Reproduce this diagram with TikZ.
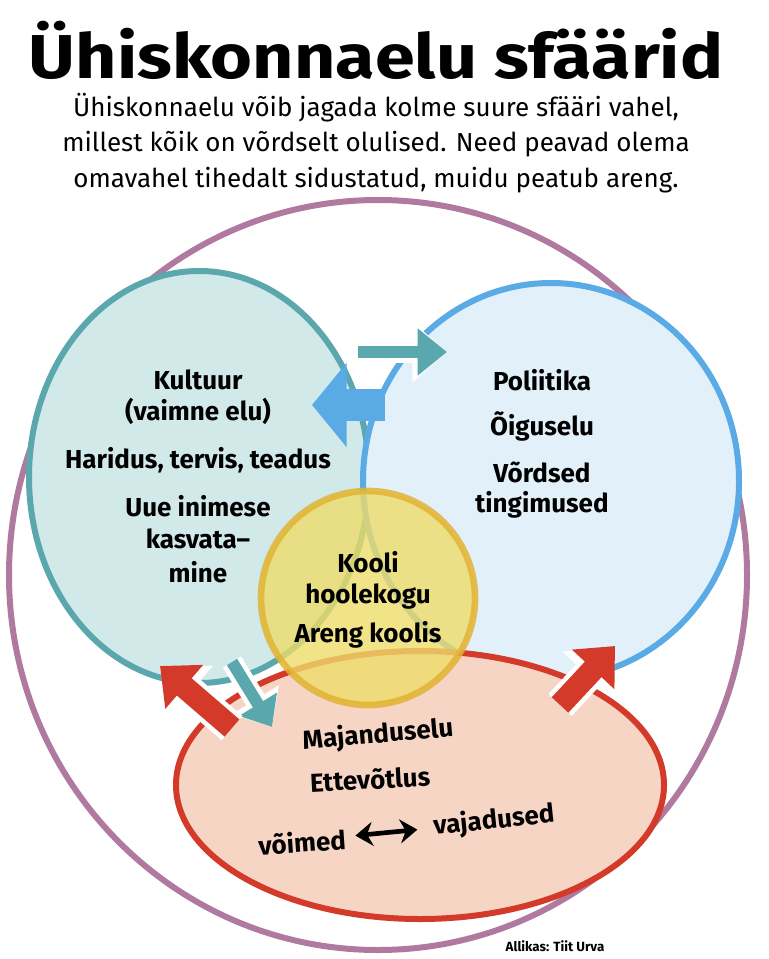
\documentclass[tikz,border=0pt]{standalone}
\usepackage{fontspec}
\setmainfont{Fira Sans}
\usetikzlibrary{arrows.meta}
\definecolor{teal1}{HTML}{5AA7AD}
\definecolor{tealf}{HTML}{D2E9EA}
\definecolor{blue1}{HTML}{5AAAE6}
\definecolor{bluef}{HTML}{E2F0FA}
\definecolor{red1}{HTML}{D33A2A}
\definecolor{redf}{HTML}{F6D5C5}
\definecolor{yel1}{HTML}{E2B433}
\definecolor{yelf}{HTML}{EEDC6A}
\definecolor{purp}{HTML}{B07AA0}
\begin{document}
\begin{tikzpicture}[x=0.75pt,y=-0.75pt,
  lbl/.style={font=\fontsize{19.5}{22}\selectfont\bfseries,align=center},
  sub/.style={font=\fontsize{19.5}{22}\selectfont,align=center}]
\useasboundingbox (0,0) rectangle (768,959);
\node (title) at (376,50) {\resizebox{694\dimexpr0.75pt\relax}{43pt}{\bfseries Ühiskonnaelu sfäärid}};
\node[sub] (s1) at (376,108) {Ühiskonnaelu võib jagada kolme suure sfääri vahel,};
\node[sub] (s2) at (376,144) {millest kõik on võrdselt olulised. Need peavad olema};
\node[sub] (s3) at (376,180) {omavahel tihedalt sidustatud, muidu peatub areng.};
\draw[purp,line width=4.5] (378,575) ellipse [x radius=369,y radius=375];
\draw[teal1,fill=tealf,line width=4.5] (199,477) ellipse [x radius=170,y radius=206];
\draw[blue1,fill=bluef,line width=4.5] (551,481) ellipse [x radius=188,y radius=198];
\draw[red1,fill=redf,line width=4.5] (420,785) ellipse [x radius=244,y radius=134];
\draw[yel1,fill=yelf,fill opacity=0.8,draw opacity=0.85,line width=5] (368,598) circle (107);
% arrows
\coordinate (a1s) at (358,352); \coordinate (a1e) at (447,352);
\draw[white,line width=16,-{Triangle[length=26,width=44]}] (a1s) -- (a1e);
\draw[teal1,line width=9,-{Triangle[length=22,width=34]}] (a1s) -- (a1e);
\coordinate (a2s) at (385,405); \coordinate (a2e) at (312,405);
\draw[blue1,line width=24,-{Triangle[length=26,width=62]}] (a2s) -- (a2e);
\coordinate (a3s) at (232,662); \coordinate (a3e) at (272,727);
\draw[white,line width=16,-{Triangle[length=24,width=40]}] (a3s) -- (a3e);
\draw[teal1,line width=9,-{Triangle[length=20,width=32]}] (a3s) -- (a3e);
\coordinate (r1s) at (232,728); \coordinate (r1e) at (160,666);
\draw[white,line width=24,-{Triangle[length=30,width=50]}] (r1s) -- (r1e);
\draw[red1,line width=17,-{Triangle[length=24,width=42]}] (r1s) -- (r1e);
\coordinate (r2s) at (560,705); \coordinate (r2e) at (615,646);
\draw[white,line width=24,-{Triangle[length=30,width=50]}] (r2s) -- (r2e);
\draw[red1,line width=17,-{Triangle[length=24,width=42]}] (r2s) -- (r2e);
% texts
\node[lbl] (k1) at (198,380) {Kultuur};
\node[lbl] (k2) at (198,411) {(vaimne elu)};
\node[lbl] (k3) at (198,460) {Haridus, tervis, teadus};
\node[lbl] (k4) at (198,506) {Uue inimese};
\node[lbl] (k5) at (198,539) {kasvata–};
\node[lbl] (k6) at (198,572) {mine};
\node[lbl] (p1) at (542,380) {Poliitika};
\node[lbl] (p2) at (542,426) {Õiguselu};
\node[lbl] (p3) at (542,472) {Võrdsed};
\node[lbl] (p4) at (542,505) {tingimused};
\node[lbl] (h1) at (368,562) {Kooli};
\node[lbl] (h2) at (368,597) {hoolekogu};
\node[lbl] (h3) at (368,635) {Areng koolis};
\node[lbl,rotate=5] (m1) at (378,735) {Majanduselu};
\node[lbl,rotate=3] (m2) at (370,779) {Ettevõtlus};
\node[lbl,rotate=4] (v1) at (302,842) {võimed};
\node[lbl,rotate=6] (v2) at (494,821) {vajadused};
\draw[line width=3.5,{Stealth[length=13,width=18]}-{Stealth[length=13,width=18]}] (v1.east)++(5,-3) -- ++(62,-6) coordinate (ve);
\node[font=\fontsize{10}{11}\selectfont\bfseries] (src) at (555,946) {Allikas: Tiit Urva};
\end{tikzpicture}
\end{document}
